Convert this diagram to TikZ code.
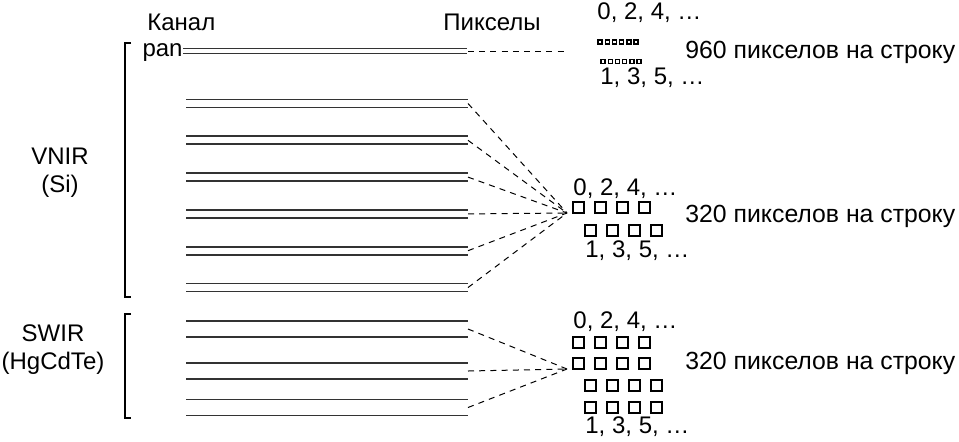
\documentclass[tikz,border=0pt]{standalone}
\usepackage{fontspec}
\setmainfont{Liberation Sans}
\usetikzlibrary{positioning}

\begin{document}
\begin{tikzpicture}[x=0.5pt,y=-0.5pt,
    chan/.style={line width=0.95pt,black!80},
    link/.style={dash pattern=on 3pt off 2.6pt,line width=0.5pt},
    brk/.style={line width=0.7pt},
    pix/.style={line width=0.75pt},
    dot/.style={line width=0.7pt},
    txt/.style={font=\fontsize{12}{14}\selectfont,inner sep=0pt},
    cnt/.style={font=\fontsize{12.4}{14}\selectfont,inner sep=0pt}]

\useasboundingbox (0,0) rectangle (959,441);

\node[txt,anchor=west] (kanal) at (147,22) {Канал};
\node[txt,anchor=west] (piks) at (443,22) {Пикселы};
\node[txt,anchor=base east] (pan) at (183,56) {pan};

\node[txt,align=center] (vnir) at (60,173) {VNIR\\(Si)};
\node[txt,align=center] (swir) at (53,350) {SWIR\\(HgCdTe)};

\draw[brk] (131,43) -- (125,43) -- (125,297) -- (131,297);
\draw[brk] (131,314) -- (125,314) -- (125,418) -- (131,418);

\coordinate (pfoc) at (567,51);
\coordinate (vfoc) at (567,213);
\coordinate (sfoc) at (567,369);

\coordinate (p0) at (468,51);
\draw[chan] (pan.base east |- 0,48.5) -- (467,48.5);
\draw[chan] (pan.base east |- 0,53.5) -- (467,53.5);
\draw[link] (p0) -- (pfoc);

\foreach \k in {0,...,5}
{
    \coordinate (v\k) at (468,{103.5+36.8*\k});
    \draw[chan] (186,{99.5+36.8*\k}) -- ++(282,0);
    \draw[chan] (186,{107.5+36.8*\k}) -- ++(282,0);
    \draw[link] (v\k) -- (vfoc);
}

\foreach \k/\y in {0/329,1/371,2/407.5}
{
    \coordinate (s\k) at (468,\y);
    \draw[chan] (186,\y-8) -- ++(282,0);
    \draw[chan] (186,\y+8) -- ++(282,0);
    \draw[link] (s\k) -- (sfoc);
}

\foreach \i in {0,...,5}
{
    \draw[dot] ({598+7.2*\i},40) rectangle ++(4,4);
    \draw[dot] ({601+7.2*\i},59.5) rectangle ++(4,4);
}

\foreach \i in {0,...,3}
{
    \draw[pix] ({573+22*\i},202) rectangle ++(11,11);
    \draw[pix] ({585+22*\i},225) rectangle ++(11,11);
    \draw[pix] ({573+22*\i},337) rectangle ++(11,11);
    \draw[pix] ({573+22*\i},358) rectangle ++(11,11);
    \draw[pix] ({585+22*\i},380) rectangle ++(11,11);
    \draw[pix] ({585+22*\i},402) rectangle ++(11,11);
}

\node[txt,anchor=west] (pev) at (597,13) {0, 2, 4, …};
\node[cnt,anchor=west] (pcnt) at (685,52) {960 пикселов на строку};
\node[txt,anchor=west] (pod) at (600,77.5) {1, 3, 5, …};

\node[txt,anchor=west] (vev) at (573,189) {0, 2, 4, …};
\node[cnt,anchor=west] (vcnt) at (685,216) {320 пикселов на строку};
\node[txt,anchor=west] (vod) at (585,251) {1, 3, 5, …};

\node[txt,anchor=west] (sev) at (573,322) {0, 2, 4, …};
\node[cnt,anchor=west] (scnt) at (685,363) {320 пикселов на строку};
\node[txt,anchor=west] (sod) at (585,427) {1, 3, 5, …};

\end{tikzpicture}
\end{document}
